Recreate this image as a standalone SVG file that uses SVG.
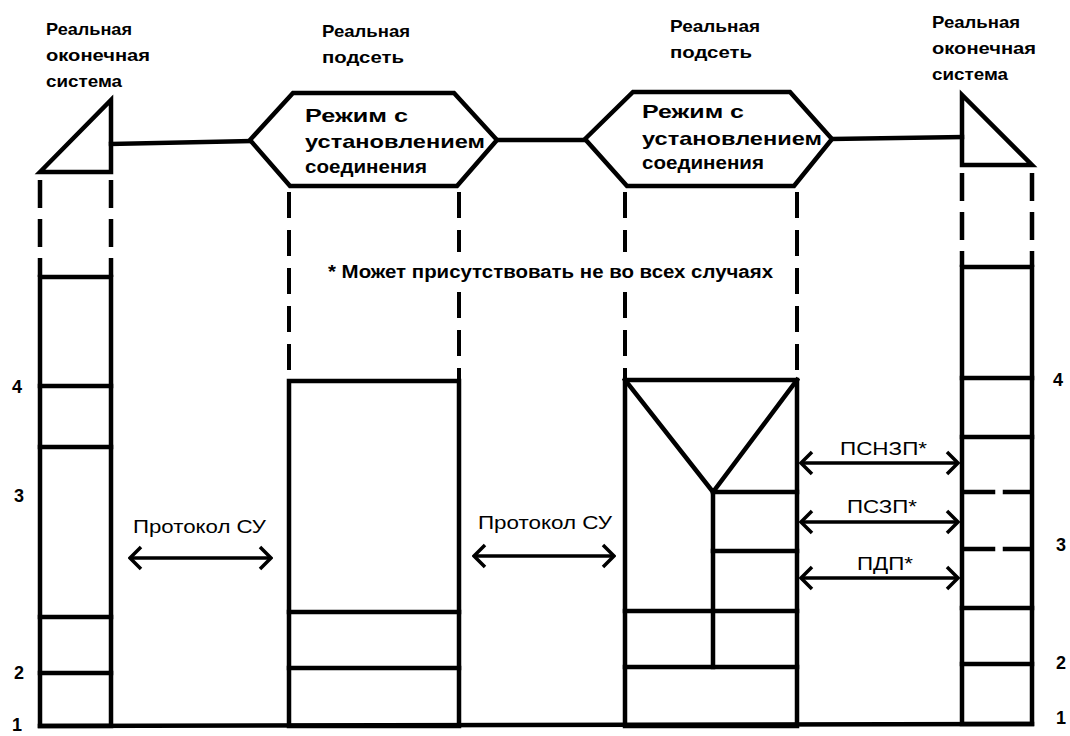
<svg xmlns="http://www.w3.org/2000/svg" width="1070" height="736" viewBox="0 0 1070 736">
<style>
.ln{stroke:#000;stroke-width:4.5;fill:none;stroke-linecap:square;stroke-linejoin:miter}
.dash{stroke:#000;stroke-width:4.5;fill:none;stroke-dasharray:28 11}
.hd{stroke:#000;stroke-width:4;fill:none;stroke-dasharray:26 12}
.arr{stroke:#000;stroke-width:3.5;fill:none;marker-start:url(#chev);marker-end:url(#chev)}
.lbl{font-family:"Liberation Sans",Arial,sans-serif;font-weight:bold;font-size:17px;fill:#000}
.hx{font-family:"Liberation Sans",Arial,sans-serif;font-weight:bold;font-size:19px;fill:#000}
.note{font-family:"Liberation Sans",Arial,sans-serif;font-weight:bold;font-size:18px;fill:#000}
.pr{font-family:"Liberation Sans",Arial,sans-serif;font-size:18px;fill:#000}
.num{font-family:"Liberation Sans",Arial,sans-serif;font-weight:bold;font-size:18px;fill:#000}
</style>
<defs>
<marker id="chev" viewBox="-14 -13 16 26" refX="0" refY="0" markerWidth="16" markerHeight="26" markerUnits="userSpaceOnUse" orient="auto-start-reverse">
<path d="M-11,-11 L0,0 L-11,11" stroke="#000" stroke-width="3.5" fill="none"/>
</marker>
</defs>
<rect width="1070" height="736" fill="#fff"/>

<g id="connectors">
<line class="ln" x1="111" y1="144" x2="250" y2="141"/>
<line class="ln" x1="497" y1="140" x2="585" y2="140"/>
<line class="ln" x1="832" y1="139" x2="962" y2="137"/>
<line class="ln" x1="40" y1="726" x2="1032" y2="724"/>
<line class="arr" x1="130" y1="558" x2="271" y2="558"/>
<line class="arr" x1="474" y1="556" x2="614" y2="556"/>
<line class="arr" x1="801" y1="463" x2="958" y2="463"/>
<line class="arr" x1="801" y1="522" x2="958" y2="522"/>
<line class="arr" x1="801" y1="578" x2="958" y2="578"/>
<text class="pr" x="133" y="533" textLength="133" lengthAdjust="spacingAndGlyphs">Протокол СУ</text>
<text class="pr" x="478" y="529" textLength="134" lengthAdjust="spacingAndGlyphs">Протокол СУ</text>
<text class="pr" x="840" y="455" font-size="20" textLength="87" lengthAdjust="spacingAndGlyphs">ПСНЗП*</text>
<text class="pr" x="847" y="513" font-size="20" textLength="70" lengthAdjust="spacingAndGlyphs">ПСЗП*</text>
<text class="pr" x="857" y="570" font-size="20" textLength="56" lengthAdjust="spacingAndGlyphs">ПДП*</text>
</g>

<g id="end-system-left">
<text class="lbl" x="46" y="35" textLength="86" lengthAdjust="spacingAndGlyphs">Реальная</text>
<text class="lbl" x="46" y="61" textLength="104" lengthAdjust="spacingAndGlyphs">оконечная</text>
<text class="lbl" x="46" y="87" textLength="76" lengthAdjust="spacingAndGlyphs">система</text>
<polygon class="ln" points="40,172 111,100 111,172"/>
<line class="dash" x1="40" y1="180" x2="40" y2="277"/>
<line class="dash" x1="111" y1="180" x2="111" y2="277"/>
<rect class="ln" x="40" y="277" width="71" height="449"/>
<line class="ln" x1="40" y1="386" x2="111" y2="386"/>
<line class="ln" x1="40" y1="447" x2="111" y2="447"/>
<line class="ln" x1="40" y1="617" x2="111" y2="617"/>
<line class="ln" x1="40" y1="673" x2="111" y2="673"/>
<text class="num" x="12" y="393">4</text>
<text class="num" x="14" y="502">3</text>
<text class="num" x="14" y="679">2</text>
<text class="num" x="12" y="731" font-size="16">1</text>
</g>

<g id="subnet-1">
<text class="lbl" x="322" y="37" textLength="88" lengthAdjust="spacingAndGlyphs">Реальная</text>
<text class="lbl" x="322" y="63" textLength="82" lengthAdjust="spacingAndGlyphs">подсеть</text>
<polygon class="ln" points="250,140 293,93 454,93 497,140 457,186 290,186"/>
<text class="hx" x="305" y="122" textLength="103" lengthAdjust="spacingAndGlyphs">Режим с</text>
<text class="hx" x="305" y="148" textLength="180" lengthAdjust="spacingAndGlyphs">установлением</text>
<text class="hx" x="305" y="173" textLength="122" lengthAdjust="spacingAndGlyphs">соединения</text>
<line class="hd" x1="289" y1="192" x2="289" y2="381"/>
<line class="hd" x1="459" y1="192" x2="459" y2="252"/>
<line class="hd" x1="459" y1="292" x2="459" y2="381"/>
<rect class="ln" x="289" y="381" width="170" height="345"/>
<line class="ln" x1="289" y1="612" x2="459" y2="612"/>
<line class="ln" x1="289" y1="668" x2="459" y2="668"/>
</g>

<text class="note" x="328" y="278" textLength="445" lengthAdjust="spacingAndGlyphs">* Может присутствовать не во всех случаях</text>

<g id="subnet-2">
<text class="lbl" x="670" y="32" textLength="90" lengthAdjust="spacingAndGlyphs">Реальная</text>
<text class="lbl" x="670" y="58" textLength="82" lengthAdjust="spacingAndGlyphs">подсеть</text>
<polygon class="ln" points="585,139 633,92 790,92 832,139 794,186 627,186"/>
<text class="hx" x="642" y="118" textLength="102" lengthAdjust="spacingAndGlyphs">Режим с</text>
<text class="hx" x="642" y="145" textLength="180" lengthAdjust="spacingAndGlyphs">установлением</text>
<text class="hx" x="642" y="169" textLength="122" lengthAdjust="spacingAndGlyphs">соединения</text>
<line class="hd" x1="625" y1="192" x2="625" y2="252"/>
<line class="hd" x1="625" y1="292" x2="625" y2="380"/>
<line class="hd" x1="797" y1="192" x2="797" y2="380"/>
<rect class="ln" x="625" y="380" width="172" height="346"/>
<polyline class="ln" points="625,380 713,492 797,380"/>
<line class="ln" x1="713" y1="492" x2="713" y2="667"/>
<line class="ln" x1="713" y1="492" x2="797" y2="492"/>
<line class="ln" x1="713" y1="551" x2="797" y2="551"/>
<line class="ln" x1="625" y1="611" x2="797" y2="611"/>
<line class="ln" x1="625" y1="667" x2="797" y2="667"/>
</g>

<g id="end-system-right">
<text class="lbl" x="932" y="28" textLength="88" lengthAdjust="spacingAndGlyphs">Реальная</text>
<text class="lbl" x="932" y="54" textLength="104" lengthAdjust="spacingAndGlyphs">оконечная</text>
<text class="lbl" x="932" y="80" textLength="76" lengthAdjust="spacingAndGlyphs">система</text>
<polygon class="ln" points="962,95 962,165 1032,165"/>
<line class="dash" x1="962" y1="173" x2="962" y2="267"/>
<line class="dash" x1="1032" y1="173" x2="1032" y2="267"/>
<rect class="ln" x="962" y="267" width="70" height="457"/>
<line class="ln" x1="962" y1="378" x2="1032" y2="378"/>
<line class="ln" x1="962" y1="437" x2="1032" y2="437"/>
<line class="ln" x1="966" y1="492" x2="1028" y2="492" stroke-dasharray="27 12"/>
<line class="ln" x1="966" y1="549" x2="1028" y2="549" stroke-dasharray="27 12"/>
<line class="ln" x1="962" y1="608" x2="1032" y2="608"/>
<line class="ln" x1="962" y1="664" x2="1032" y2="664"/>
<text class="num" x="1053" y="386">4</text>
<text class="num" x="1056" y="551">3</text>
<text class="num" x="1056" y="669">2</text>
<text class="num" x="1056" y="724">1</text>
</g>
</svg>
